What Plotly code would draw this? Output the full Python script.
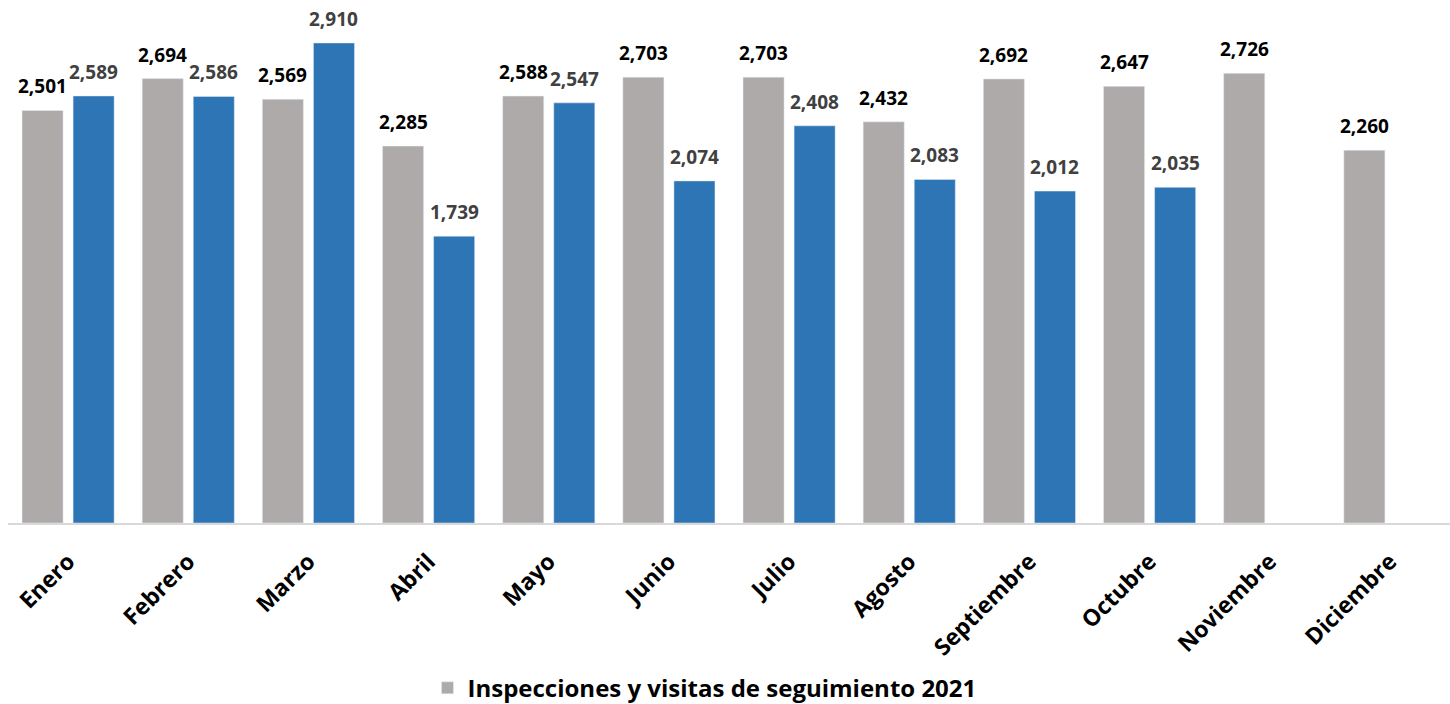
import plotly.graph_objects as go

months = ["Enero", "Febrero", "Marzo", "Abril", "Mayo", "Junio", "Julio",
          "Agosto", "Septiembre", "Octubre", "Noviembre", "Diciembre"]
vals_2021 = [2501, 2694, 2569, 2285, 2588, 2703, 2703, 2432, 2692, 2647, 2726, 2260]
vals_2022 = [2589, 2586, 2910, 1739, 2547, 2074, 2408, 2083, 2012, 2035, None, None]

name_2021 = "Inspecciones y visitas de seguimiento 2021"
name_2022 = "Inspecciones y visitas de seguimiento 2022"

COL_2021 = "#AEAAAA"
COL_2022 = "#2E75B6"

def fmt(v):
    return f"{v:,}"

fig = go.Figure()
fig.add_trace(go.Bar(x=months, y=vals_2021, name=name_2021, marker_color=COL_2021))
fig.add_trace(go.Bar(x=months, y=vals_2022, name=name_2022, showlegend=False,
                     marker_color=COL_2022))

# data labels placed above each bar (slot half-width ~25.5 px)
label_font = dict(family="Open Sans", size=19, weight="bold")
for m, v in zip(months, vals_2021):
    if v is not None:
        fig.add_annotation(x=m, y=v, text=fmt(v), showarrow=False, xshift=-25.5,
                           yanchor="bottom", yshift=9,
                           font=dict(**label_font, color="#000000"))
for m, v in zip(months, vals_2022):
    if v is not None:
        fig.add_annotation(x=m, y=v, text=fmt(v), showarrow=False, xshift=25.5,
                           yanchor="bottom", yshift=9,
                           font=dict(**label_font, color="#404040"))

fig.update_layout(
    width=1450, height=704,
    margin=dict(l=8, r=0, t=10, b=181, autoexpand=False),
    plot_bgcolor="white", paper_bgcolor="white",
    barmode="group", bargap=0.15, bargroupgap=0.196,
    font=dict(family="Open Sans", color="#000000"),
    showlegend=True,
    legend=dict(orientation="h", x=0.483, xanchor="center", y=-0.322, yanchor="middle",
                font=dict(family="Open Sans", size=24, color="#000000", weight="bold")),
)
fig.update_xaxes(
    range=[-0.5, 11.5], tickangle=-45, automargin=False,
    tickfont=dict(family="Open Sans", size=23, color="#000000", weight="bold"),
    ticklabelstandoff=14,
    showline=True, linecolor="#D9D9D9", linewidth=2,
    showgrid=False, ticks="",
)
fig.update_yaxes(range=[0, 3110], visible=False, showgrid=False, zeroline=False,
                 automargin=False)

fig.write_html("out.html",
               config={"displayModeBar": False},
               post_script="document.body.style.margin='0';document.body.style.overflow='hidden';")
